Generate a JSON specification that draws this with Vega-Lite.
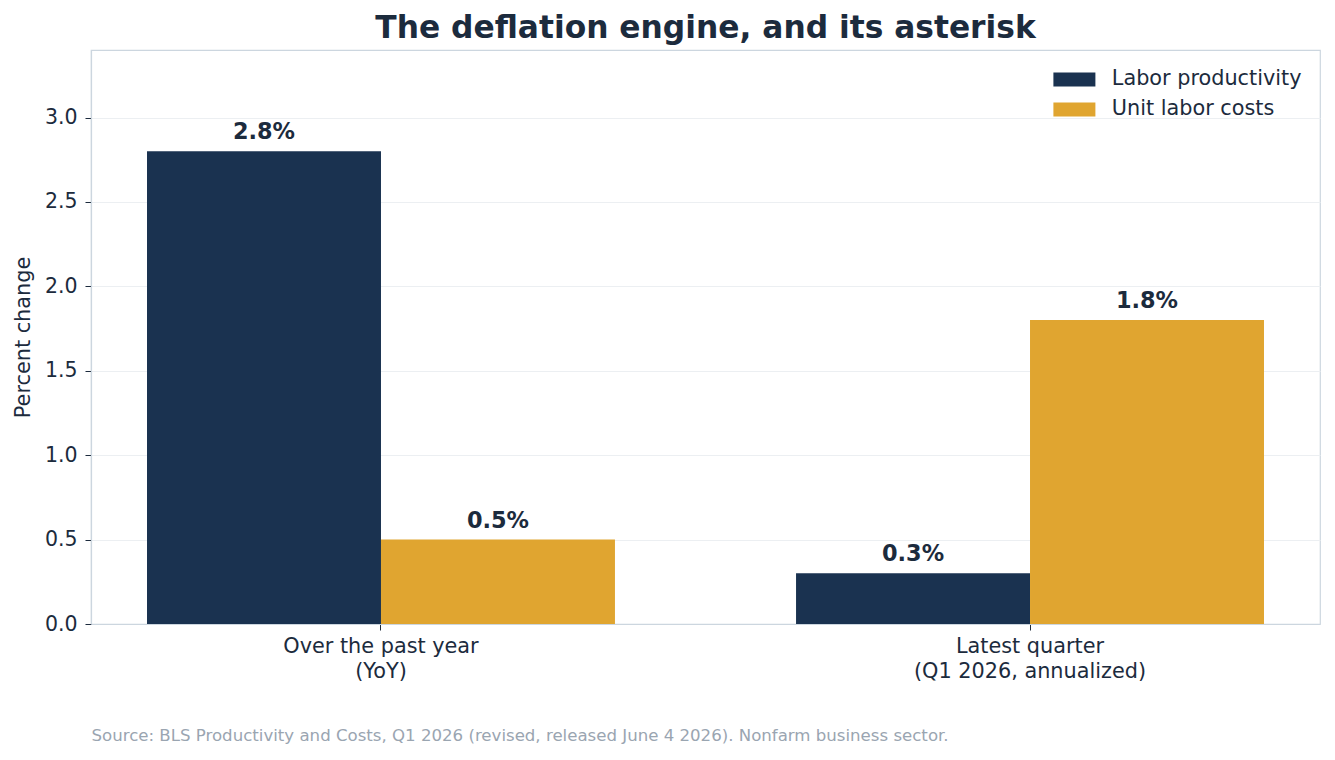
{
  "$schema": "https://vega.github.io/schema/vega-lite/v6.json",
  "width": 1229,
  "height": 574,
  "autosize": {"type": "none"},
  "padding": {"left": 91, "top": 50, "right": 15, "bottom": 136},
  "background": "white",
  "config": {
    "font": "DejaVu Sans",
    "view": {"stroke": "#ccd6df", "strokeWidth": 1.2}
  },
  "title": {
    "text": "The deflation engine, and its asterisk",
    "fontSize": 31.3,
    "fontWeight": "bold",
    "color": "#1c2b3d",
    "anchor": "middle",
    "baseline": "alphabetic",
    "offset": -19
  },
  "data": {
    "values": [
      {"period": "Over the past year|(YoY)", "series": "Labor productivity", "value": 2.8, "label": "2.8%"},
      {"period": "Over the past year|(YoY)", "series": "Unit labor costs", "value": 0.5, "label": "0.5%"},
      {"period": "Latest quarter|(Q1 2026, annualized)", "series": "Labor productivity", "value": 0.3, "label": "0.3%"},
      {"period": "Latest quarter|(Q1 2026, annualized)", "series": "Unit labor costs", "value": 1.8, "label": "1.8%"}
    ]
  },
  "encoding": {
    "x": {
      "field": "period",
      "type": "nominal",
      "sort": null,
      "scale": {"paddingInner": 0.279, "paddingOuter": 0.0863},
      "axis": {
        "labelAngle": 0,
        "labelExpr": "split(datum.label, '|')",
        "labelFontSize": 20.8,
        "labelColor": "#1c2b3d",
        "labelLineHeight": 25,
        "labelPadding": 6,
        "labelLimit": 0,
        "tickColor": "#1c2b3d",
        "tickSize": 6,
        "tickBand": "center",
        "domainColor": "#ccd6df",
        "domainWidth": 1.2,
        "title": "Source: BLS Productivity and Costs, Q1 2026 (revised, released June 4 2026). Nonfarm business sector.",
        "titleAnchor": "start",
        "titleAlign": "left",
        "titleX": 0,
        "titleY": 111,
        "titleBaseline": "middle",
        "titleFontSize": 16.6,
        "titleFontWeight": "normal",
        "titleColor": "#9aa5b1",
        "titleLimit": 0
      }
    },
    "xOffset": {
      "field": "series",
      "sort": ["Labor productivity", "Unit labor costs"],
      "scale": {"paddingInner": 0, "paddingOuter": 0}
    },
    "y": {
      "field": "value",
      "type": "quantitative",
      "scale": {"domain": [0, 3.4], "nice": false},
      "axis": {
        "title": "Percent change",
        "titleFontSize": 20.8,
        "titleFontWeight": "normal",
        "titleColor": "#1c2b3d",
        "titlePadding": 11,
        "values": [0, 0.5, 1, 1.5, 2, 2.5, 3],
        "format": ".1f",
        "labelFontSize": 20.5,
        "labelColor": "#1c2b3d",
        "labelPadding": 8,
        "tickColor": "#1c2b3d",
        "tickSize": 6,
        "domainColor": "#ccd6df",
        "domainWidth": 1.2,
        "gridColor": "#eceff2",
        "gridWidth": 1.2
      }
    }
  },
  "layer": [
    {
      "mark": {"type": "bar"},
      "encoding": {
        "color": {
          "field": "series",
          "type": "nominal",
          "sort": ["Labor productivity", "Unit labor costs"],
          "scale": {"range": ["#1a3250", "#e0a530"]},
          "legend": {
            "title": null,
            "orient": "none",
            "legendX": 959,
            "legendY": 19,
            "padding": 0,
            "symbolType": "M-1,-1H5V1H-1Z",
            "symbolSize": 196,
            "symbolStrokeWidth": 0,
            "symbolOpacity": 1,
            "labelOffset": 41,
            "labelFontSize": 20.8,
            "labelColor": "#1c2b3d",
            "labelLimit": 0,
            "rowPadding": 8
          }
        }
      }
    },
    {
      "mark": {
        "type": "text",
        "baseline": "alphabetic",
        "dy": -12,
        "fontSize": 22.4,
        "fontWeight": "bold",
        "color": "#1c2b3d"
      },
      "encoding": {
        "text": {"field": "label"}
      }
    }
  ]
}
